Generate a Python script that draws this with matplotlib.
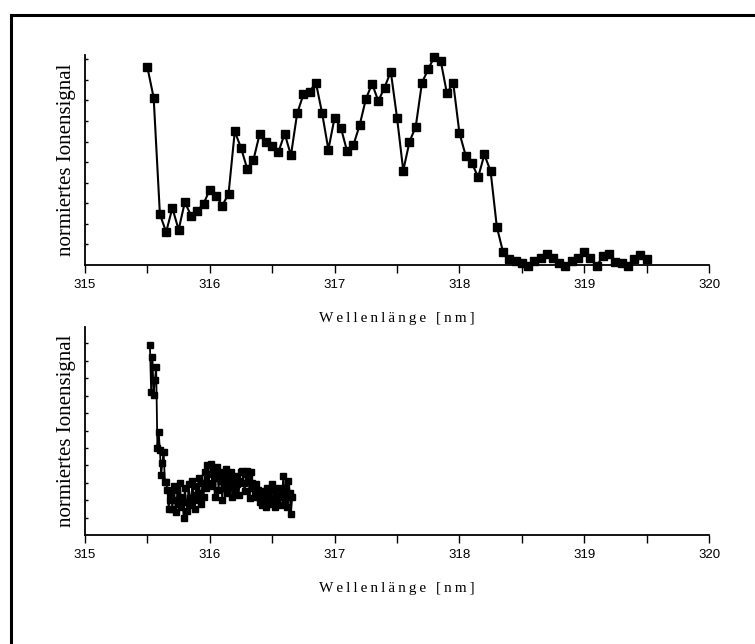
import numpy as np
import matplotlib
matplotlib.use("Agg")
from matplotlib import pyplot as plt
from matplotlib.lines import Line2D

# top spectrum: 315.50 .. 319.50 nm, step 0.05 nm
wl_top = np.round(np.arange(315.50, 319.501, 0.05), 3)
sig_top = [
    0.960, 0.813, 0.247, 0.160, 0.277, 0.171, 0.306, 0.239, 0.263, 0.298,
    0.366, 0.337, 0.289, 0.345, 0.649, 0.569, 0.467, 0.512, 0.638, 0.600,
    0.577, 0.550, 0.638, 0.533, 0.737, 0.829, 0.842, 0.886, 0.737, 0.561,
    0.716, 0.667, 0.553, 0.582, 0.678, 0.805, 0.881, 0.797, 0.862, 0.940,
    0.716, 0.459, 0.599, 0.672, 0.886, 0.951, 1.013, 0.992, 0.834, 0.886,
    0.642, 0.532, 0.496, 0.426, 0.537, 0.455, 0.184, 0.062, 0.028, 0.021,
    0.011, -0.005, 0.021, 0.033, 0.054, 0.033, 0.011, -0.005, 0.021, 0.033,
    0.062, 0.033, -0.005, 0.044, 0.054, 0.016, 0.011, -0.005, 0.028, 0.049,
    0.028,
]

# bottom spectrum: 315.52 .. 316.66 nm, step 0.01 nm
wl_bot = np.round(np.arange(315.52, 316.661, 0.01), 3)
sig_bot = [
    1.092, 0.822, 1.023, 0.805, 0.891, 0.966, 0.500, 0.592, 0.489, 0.345,
    0.414, 0.477, 0.305, 0.305, 0.259, 0.149, 0.201,
    0.24, 0.15, 0.28, 0.20, 0.13, 0.26, 0.18, 0.30, 0.16, 0.22, 0.10, 0.27, 0.19,
    0.14, 0.29, 0.21, 0.17, 0.31, 0.23, 0.15, 0.28, 0.20, 0.33, 0.24, 0.18,
    0.30, 0.22, 0.36, 0.27,
    0.40, 0.30, 0.35, 0.41, 0.28, 0.37, 0.22, 0.33, 0.39, 0.26, 0.36, 0.31, 0.20,
    0.34, 0.27, 0.38, 0.24, 0.32, 0.28, 0.36, 0.22, 0.30, 0.26, 0.34, 0.29,
    0.23, 0.31, 0.36, 0.37, 0.30, 0.25, 0.35,
    0.37, 0.33, 0.21, 0.36, 0.30, 0.27, 0.24, 0.29, 0.22, 0.26, 0.19, 0.23,
    0.17, 0.25, 0.20, 0.16, 0.27, 0.22, 0.18, 0.26, 0.29, 0.21, 0.16, 0.24,
    0.19, 0.27, 0.17, 0.22, 0.25,
    0.34, 0.20, 0.27, 0.16, 0.31, 0.24, 0.12, 0.22,
]

xticks = [315, 316, 317, 318, 319, 320]
ylabel = "normiertes Ionensignal"
xlabel = "Wellenlänge [nm]"

serif = ["Liberation Serif", "DejaVu Serif"]
sans = ["Liberation Sans", "DejaVu Sans"]

# the original x label is letter-spaced
xlabel_spaced = "\u2009".join(xlabel)


def style_axis(ax, ytop):
    ax.patch.set_visible(False)
    for s in ("top", "right"):
        ax.spines[s].set_visible(False)
    for s in ("left", "bottom"):
        ax.spines[s].set_linewidth(1.3)
    ax.set_xlim(315, 320)
    ax.set_ylim(0, ytop)
    ax.set_xticks(xticks)
    ax.set_xticklabels([str(t) for t in xticks], family=sans, fontsize=9.5)
    ax.set_xticks(np.arange(315.5, 320, 1.0), minor=True)
    ax.tick_params(axis="x", which="both", direction="out", length=6,
                   width=1.0, pad=4)
    ax.set_yticks(np.arange(0.1, ytop, 0.1))
    ax.set_yticklabels([])
    ax.tick_params(axis="y", direction="in", length=2.5, width=1.0)
    ax.set_ylabel(ylabel, family=serif, fontsize=15, labelpad=3)
    ax.set_xlabel(xlabel_spaced, family=serif, fontsize=11, labelpad=15)


fig = plt.figure(figsize=[7.55, 6.44], dpi=100)
ax1 = fig.add_axes([0.1126, 0.5885, 0.8265, 0.326])
ax2 = fig.add_axes([0.1126, 0.1693, 0.8265, 0.323])

ax1.plot(wl_top, sig_top, color="black", lw=1.5, marker="s", ms=5.5,
         clip_on=False)
style_axis(ax1, 1.02)

ax2.plot(wl_bot, sig_bot, color="black", lw=1.3, marker="s", ms=4.5,
         clip_on=False)
style_axis(ax2, 1.195)

# frame around the figure (only left and top are visible)
fig.add_artist(Line2D([10.7 / 755, 10.7 / 755], [0, 1 - 14.7 / 644],
                      color="black", lw=2.2, transform=fig.transFigure))
fig.add_artist(Line2D([10.7 / 755, 1], [1 - 14.7 / 644, 1 - 14.7 / 644],
                      color="black", lw=2.2, transform=fig.transFigure))

fig.savefig("out.png", dpi=100)
